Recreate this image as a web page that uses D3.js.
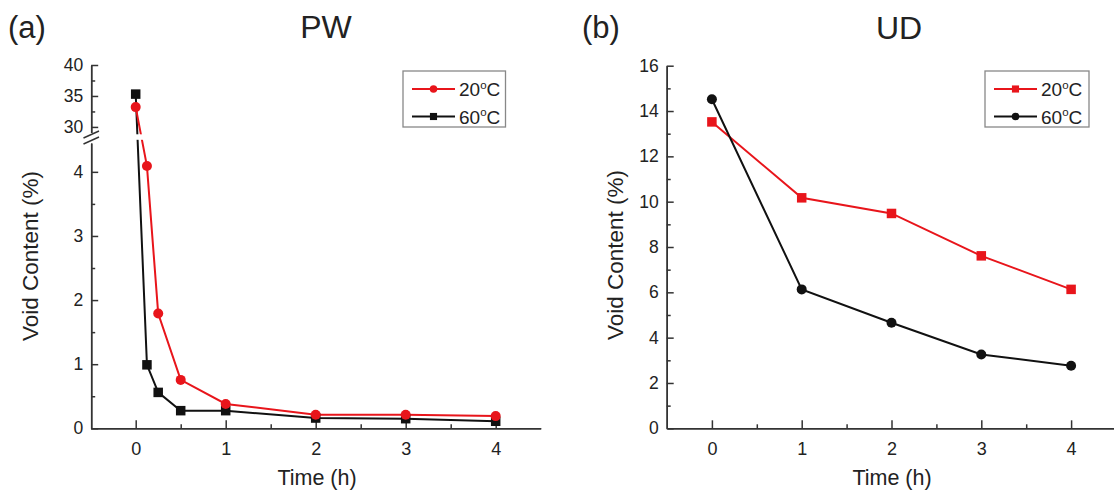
<!DOCTYPE html>
<html>
<head>
<meta charset="utf-8">
<script src="https://cdn.jsdelivr.net/npm/d3@7"></script>
<style>
  body { margin: 0; background: #fff; }
  svg { font-family: Arial, "Liberation Sans", sans-serif; }
</style>
</head>
<body>
<script>
/* chart data */
var timesPW = [0, 0.125, 0.25, 0.5, 1, 2, 3, 4];
var pw20 = [33.2, 4.09, 1.79, 0.755, 0.38, 0.21, 0.21, 0.19];
var pw60 = [35.3, 0.99, 0.56, 0.275, 0.275, 0.16, 0.15, 0.11];

var timesUD = [0, 1, 2, 3, 4];
var ud20 = [13.52, 10.17, 9.48, 7.61, 6.13];
var ud60 = [14.52, 6.13, 4.66, 3.26, 2.76];

var xTicks = [0, 1, 2, 3, 4];
var xMinor = [0.5, 1.5, 2.5, 3.5];
var pwLowTicks = [0, 1, 2, 3, 4];
var pwLowMinor = [0.5, 1.5, 2.5, 3.5];
var pwUpTicks = [30, 35, 40];
var pwUpMinor = [32.5, 37.5];
var udTicks = [0, 2, 4, 6, 8, 10, 12, 14, 16];
var udMinor = [1, 3, 5, 7, 9, 11, 13, 15];

var width = 1114, height = 492;
var red = "#e8151b", black = "#111", axisCol = "#333", textCol = "#222";

var svg = d3.select("body").append("svg")
    .attr("width", width)
    .attr("height", height);

/* helper: draw x axis with inside ticks */
function drawX(g, x, y0) {
    g.append("g").attr("transform", "translate(0," + y0 + ")")
        .call(d3.axisBottom(x).tickValues(xMinor).tickSize(-4).tickSizeOuter(0).tickFormat(""))
        .call(styleAxis);
    var ax = g.append("g").attr("transform", "translate(0," + y0 + ")")
        .call(d3.axisBottom(x).tickValues(xTicks).tickSize(-8).tickSizeOuter(0).tickPadding(10).tickFormat(d3.format("d")))
        .call(styleAxis);
    ax.selectAll(".tick text").attr("dy", "0.95em").style("font-size", "18px");
}

/* helper: draw y axis with inside ticks */
function drawY(g, y, x0, major, minor) {
    g.append("g").attr("transform", "translate(" + x0 + ",0)")
        .call(d3.axisLeft(y).tickValues(minor).tickSize(-4).tickSizeOuter(0).tickFormat(""))
        .call(styleAxis);
    var ax = g.append("g").attr("transform", "translate(" + x0 + ",0)")
        .call(d3.axisLeft(y).tickValues(major).tickSize(-7).tickSizeOuter(0).tickPadding(8).tickFormat(d3.format("d")))
        .call(styleAxis);
    ax.selectAll(".tick text").style("font-size", "17.5px");
}

function styleAxis(sel) {
    sel.select(".domain").attr("stroke", axisCol).attr("stroke-width", 1.5);
    sel.selectAll(".tick line").attr("stroke", axisCol).attr("stroke-width", 1.5);
    sel.selectAll(".tick text").attr("fill", textCol).style("font-family", "Arial, 'Liberation Sans', sans-serif");
}

/* legend with superscript degree */
function legend(g, x0, y0, w, h, items) {
    g.append("rect")
        .attr("x", x0).attr("y", y0).attr("width", w).attr("height", h)
        .attr("fill", "#fff").attr("stroke", "#888").attr("stroke-width", 1.3);
    items.forEach(function(it, i) {
        var yy = y0 + 18 + i * 27.5;
        g.append("line")
            .attr("x1", x0 + 9).attr("x2", x0 + 52)
            .attr("y1", yy).attr("y2", yy)
            .attr("stroke", it.color).attr("stroke-width", 2);
        drawMarker(g, it.shape, x0 + 30.5, yy, it.color, 0.75);
        var t = g.append("text")
            .attr("x", x0 + 56).attr("y", yy + 7)
            .attr("fill", textCol).style("font-size", "19px");
        t.append("tspan").text(it.label);
        t.append("tspan").attr("dy", -7.5).style("font-size", "11.5px").text("o");
        t.append("tspan").attr("dy", 7.5).text("C");
    });
}

function drawMarker(g, shape, cx, cy, color, k) {
    if (shape === "circle") {
        g.append("circle").attr("cx", cx).attr("cy", cy).attr("r", 5 * k).attr("fill", color);
    } else {
        var s = 9.5 * k;
        g.append("rect").attr("x", cx - s / 2).attr("y", cy - s / 2)
            .attr("width", s).attr("height", s).attr("fill", color);
    }
}

/* ---------------- Panel (a) PW ---------------- */
var gA = svg.append("g");
var xA = d3.scaleLinear().domain([-0.5, 4.5]).range([90.7, 540.7]);
var yLow = d3.scaleLinear().domain([0, 4.45]).range([428.3, 143]);
var yUp = d3.scaleLinear().domain([29.1, 40]).range([132.5, 65]);
function yPW(v) { return v > 20 ? yUp(v) : yLow(v); }

drawX(gA, xA, 428.3);
drawY(gA, yLow, 91.2, pwLowTicks, pwLowMinor);
drawY(gA, yUp, 91.2, pwUpTicks, pwUpMinor);

var lineA = d3.line()
    .x(function(d) { return xA(d[0]); })
    .y(function(d) { return yPW(d[1]); });

var seriesA = [
    { vals: pw60, color: black, shape: "rect" },
    { vals: pw20, color: red, shape: "circle" }
];
seriesA.forEach(function(s) {
    gA.append("path")
        .datum(d3.zip(timesPW, s.vals))
        .attr("d", lineA)
        .attr("fill", "none")
        .attr("stroke", s.color)
        .attr("stroke-width", 2);
});

/* white band for the axis break */
gA.append("rect")
    .attr("x", 92).attr("y", 134.3).attr("width", 450).attr("height", 5.5)
    .attr("fill", "#fff");
gA.append("rect")
    .attr("x", 86).attr("y", 133).attr("width", 12).attr("height", 9)
    .attr("fill", "#fff");
[134.5, 140.5].forEach(function(yb) {
    gA.append("line")
        .attr("x1", 83.5).attr("y1", yb + 3.5)
        .attr("x2", 99).attr("y2", yb - 3.5)
        .attr("stroke", axisCol).attr("stroke-width", 1.4);
});

seriesA.forEach(function(s) {
    timesPW.forEach(function(t, i) {
        drawMarker(gA, s.shape, xA(t), yPW(s.vals[i]), s.color, 1);
    });
});

legend(gA, 403, 71, 102.5, 56, [
    { label: "20", color: red, shape: "circle" },
    { label: "60", color: black, shape: "rect" }
]);

gA.append("text").attr("x", 8).attr("y", 38)
    .attr("fill", textCol).style("font-size", "31px").text("(a)");
gA.append("text").attr("x", 326).attr("y", 38).attr("text-anchor", "middle")
    .attr("fill", textCol).style("font-size", "32px").text("PW");
gA.append("text").attr("x", 317).attr("y", 485).attr("text-anchor", "middle")
    .attr("fill", textCol).style("font-size", "21.5px").text("Time (h)");
gA.append("text")
    .attr("transform", "translate(37.5,256) rotate(-90)")
    .attr("text-anchor", "middle")
    .attr("fill", textCol).style("font-size", "22.5px").text("Void Content (%)");

/* ---------------- Panel (b) UD ---------------- */
var gB = svg.append("g");
var xB = d3.scaleLinear().domain([-0.5, 4.5]).range([667, 1116]);
var yB = d3.scaleLinear().domain([0, 16]).range([428.3, 65.7]);

drawX(gB, xB, 428.3);
drawY(gB, yB, 666.7, udTicks, udMinor);

var lineB = d3.line()
    .x(function(d) { return xB(d[0]); })
    .y(function(d) { return yB(d[1]); });

var seriesB = [
    { vals: ud20, color: red, shape: "rect" },
    { vals: ud60, color: black, shape: "circle" }
];
seriesB.forEach(function(s) {
    gB.append("path")
        .datum(d3.zip(timesUD, s.vals))
        .attr("d", lineB)
        .attr("fill", "none")
        .attr("stroke", s.color)
        .attr("stroke-width", 2);
});
seriesB.forEach(function(s) {
    timesUD.forEach(function(t, i) {
        drawMarker(gB, s.shape, xB(t), yB(s.vals[i]), s.color, 1);
    });
});

legend(gB, 985, 71, 104, 56, [
    { label: "20", color: red, shape: "rect" },
    { label: "60", color: black, shape: "circle" }
]);

gB.append("text").attr("x", 582).attr("y", 38)
    .attr("fill", textCol).style("font-size", "31px").text("(b)");
gB.append("text").attr("x", 899).attr("y", 39).attr("text-anchor", "middle")
    .attr("fill", textCol).style("font-size", "32px").text("UD");
gB.append("text").attr("x", 892).attr("y", 485).attr("text-anchor", "middle")
    .attr("fill", textCol).style("font-size", "21.5px").text("Time (h)");
gB.append("text")
    .attr("transform", "translate(623,255) rotate(-90)")
    .attr("text-anchor", "middle")
    .attr("fill", textCol).style("font-size", "22.5px").text("Void Content (%)");
</script>
</body>
</html>
